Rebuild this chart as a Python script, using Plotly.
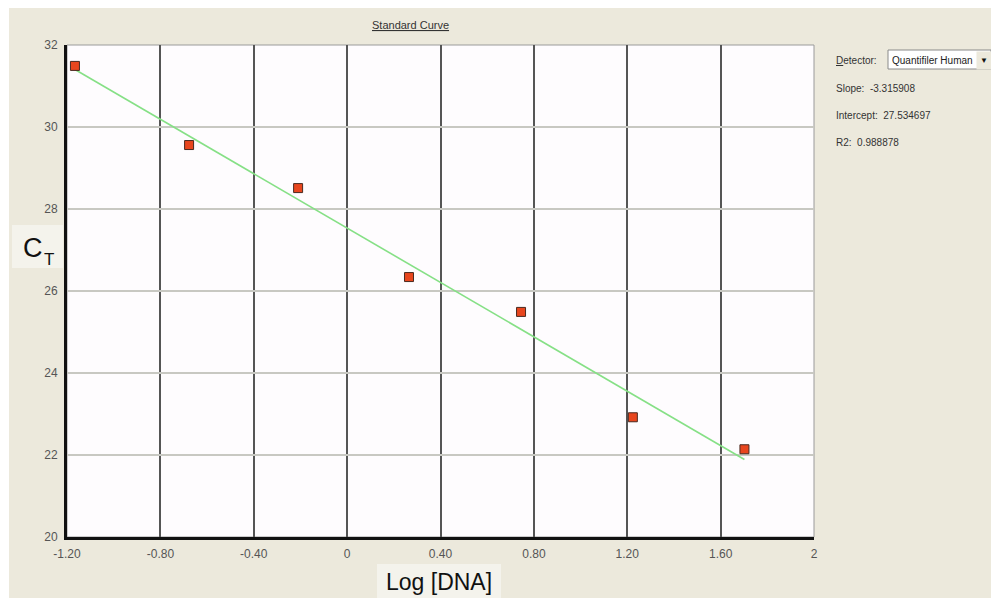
import plotly.graph_objects as go

# Data
log_dna = [-1.166, -0.677, -0.210, 0.265, 0.745, 1.224, 1.702]
ct_values = [31.49, 29.56, 28.51, 26.34, 25.49, 22.92, 22.14]
slope = -3.315908
intercept = 27.534697
r2 = 0.988878
x_tickvals = [-1.2, -0.8, -0.4, 0, 0.4, 0.8, 1.2, 1.6, 2]
x_ticktext = ["-1.20", "-0.80", "-0.40", "0", "0.40", "0.80", "1.20", "1.60", "2"]
y_tickvals = [20, 22, 24, 26, 28, 30, 32]
y_ticktext = ["20", "22", "24", "26", "28", "30", "32"]

W, H = 991, 601
L, R, T, B = 67, 814, 45, 537


def px(x):
    return (x - L) / (R - L)


def py(y):
    return (B - y) / (B - T)


fit_x = [min(log_dna), max(log_dna)]
fit_y = [slope * v + intercept for v in fit_x]

fig = go.Figure()
fig.add_trace(go.Scatter(x=fit_x, y=fit_y, mode="lines",
                         line=dict(color="#86E086", width=1.6), showlegend=False))
fig.add_trace(go.Scatter(x=log_dna, y=ct_values, mode="markers",
                         marker=dict(symbol="square", size=9, color="#E8461E",
                                     line=dict(color="#4A2A20", width=1)),
                         showlegend=False))

font = "Liberation Sans, Arial, sans-serif"

shapes = [
    # beige window background
    dict(type="rect", xref="paper", yref="paper", x0=px(9), x1=px(991), y0=py(598), y1=py(8),
         fillcolor="#ECE9DC", line=dict(width=0), layer="below"),
    # plot area
    dict(type="rect", xref="paper", yref="paper", x0=0, x1=1, y0=0, y1=1,
         fillcolor="#FEFCFE", line=dict(color="#9A9A9A", width=1), layer="below"),
    # C_T label box
    dict(type="rect", xref="paper", yref="paper", x0=px(12), x1=px(63), y0=py(268), y1=py(225),
         fillcolor="#F4F3EC", line=dict(width=0), layer="below"),
    # Log [DNA] label box
    dict(type="rect", xref="paper", yref="paper", x0=px(377), x1=px(501), y0=py(598), y1=py(564),
         fillcolor="#F4F3EC", line=dict(width=0), layer="below"),
    # dropdown box
    dict(type="rect", xref="paper", yref="paper", x0=px(888), x1=px(991), y0=py(69), y1=py(50),
         fillcolor="#FFFFFF", line=dict(color="#8A8A8A", width=1), layer="above"),
]


def ann(text, x, y, size, xanchor="left", color="#333333", **kw):
    return dict(text=text, x=px(x), y=py(y), xref="paper", yref="paper",
                xanchor=xanchor, yanchor="middle", showarrow=False,
                font=dict(family=font, size=size, color=color), **kw)


annotations = [
    ann("<u>Standard Curve</u>", 410, 25, 11, xanchor="center"),
    ann("<u>D</u>etector:", 834, 60, 10),
    ann("Quantifiler Human", 890, 60, 10, color="#222222"),
    ann("▼", 984, 60, 8, xanchor="center", color="#111111",
        bgcolor="#ECE9DC", width=12, height=15),
    ann(f"Slope:  {slope:.6f}", 834, 88, 10),
    ann(f"Intercept:  {intercept:.6f}", 834, 115, 10),
    ann(f"R2:  {r2:.6f}", 834, 142, 10),
    ann("C", 33, 248, 27, xanchor="center", color="#111111"),
    ann("T", 49, 259, 17, xanchor="center", color="#111111"),
    ann("Log [DNA]", 439, 582, 23, xanchor="center", color="#111111"),
]

fig.update_layout(
    width=W, height=H,
    margin=dict(l=L, r=W - R, t=T, b=H - B, pad=0),
    paper_bgcolor="#FFFFFF",
    plot_bgcolor="rgba(0,0,0,0)",
    shapes=shapes,
    annotations=annotations,
    xaxis=dict(range=[-1.2, 2], tickvals=x_tickvals, ticktext=x_ticktext,
               showgrid=True, gridcolor="#555555", gridwidth=1.5,
               showline=True, linecolor="#111111", linewidth=3,
               zeroline=False, ticks="", ticklen=0, ticklabelstandoff=4,
               tickfont=dict(family=font, size=12, color="#555555")),
    yaxis=dict(range=[20, 32], tickvals=y_tickvals, ticktext=y_ticktext,
               showgrid=True, gridcolor="#C8C8C2", gridwidth=1.5,
               showline=True, linecolor="#111111", linewidth=3,
               zeroline=False, ticks="", ticklen=0, ticklabelstandoff=4,
               tickfont=dict(family=font, size=12, color="#555555")),
)

fig.write_html("out.html")
